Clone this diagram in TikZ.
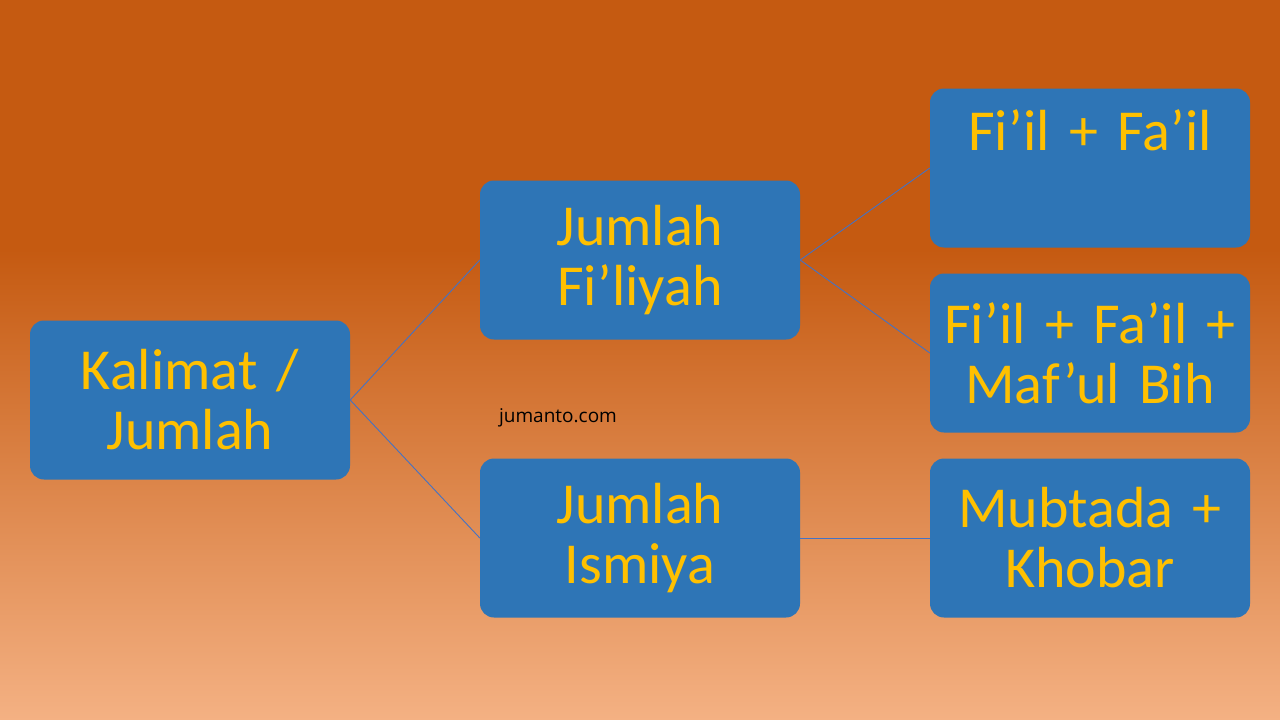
\documentclass[tikz,border=0pt]{standalone}
\usepackage{fontspec}
\setmainfont{Carlito}
\newfontfamily\webfont{Open Sans}
\definecolor{boxblue}{HTML}{2E75B6}
\definecolor{txtgold}{HTML}{FFC000}
\definecolor{linkblue}{HTML}{4472C4}
\definecolor{bgtop}{HTML}{C55A11}
\definecolor{bgbot}{HTML}{F4B183}
\begin{document}
\begin{tikzpicture}[x=1pt,y=-1pt,
  box/.style={fill=boxblue,rounded corners=14pt,minimum width=320pt,minimum height=159pt,inner sep=0pt,align=center,text=txtgold,font=\fontsize{58}{60}\selectfont,text width=320pt},
  link/.style={draw=linkblue,line width=0.9pt}]
\fill[bgtop] (0,0) rectangle (1280,250);
\shade[top color=bgtop,bottom color=bgbot] (0,249) rectangle (1280,720);
\useasboundingbox (0,0) rectangle (1280,720);
\node[box] (k) at (190,400) {Kalimat /\\Jumlah};
\node[box] (jf) at (640,260) {Jumlah\\Fi’liyah};
\node[box] (ji) at (640,538) {Jumlah\\Ismiya};
\node[box] (f1) at (1090,168) {Fi’il + Fa’il\\[-2pt]\strut};
\node[box] (f2) at (1090,353) {Fi’il + Fa’il +\\Maf’ul Bih};
\node[box] (mk) at (1090,538) {Mubtada +\\Khobar};
\draw[link] (k.east) -- (jf.west);
\draw[link] (k.east) -- (ji.west);
\draw[link] (jf.east) -- (f1.west);
\draw[link] (jf.east) -- (f2.west);
\draw[link] (ji.east) -- (mk.west);
\node[font=\webfont\fontsize{19}{22}\selectfont,text=black] (w) at (558,418) {jumanto.com};
\end{tikzpicture}
\end{document}
